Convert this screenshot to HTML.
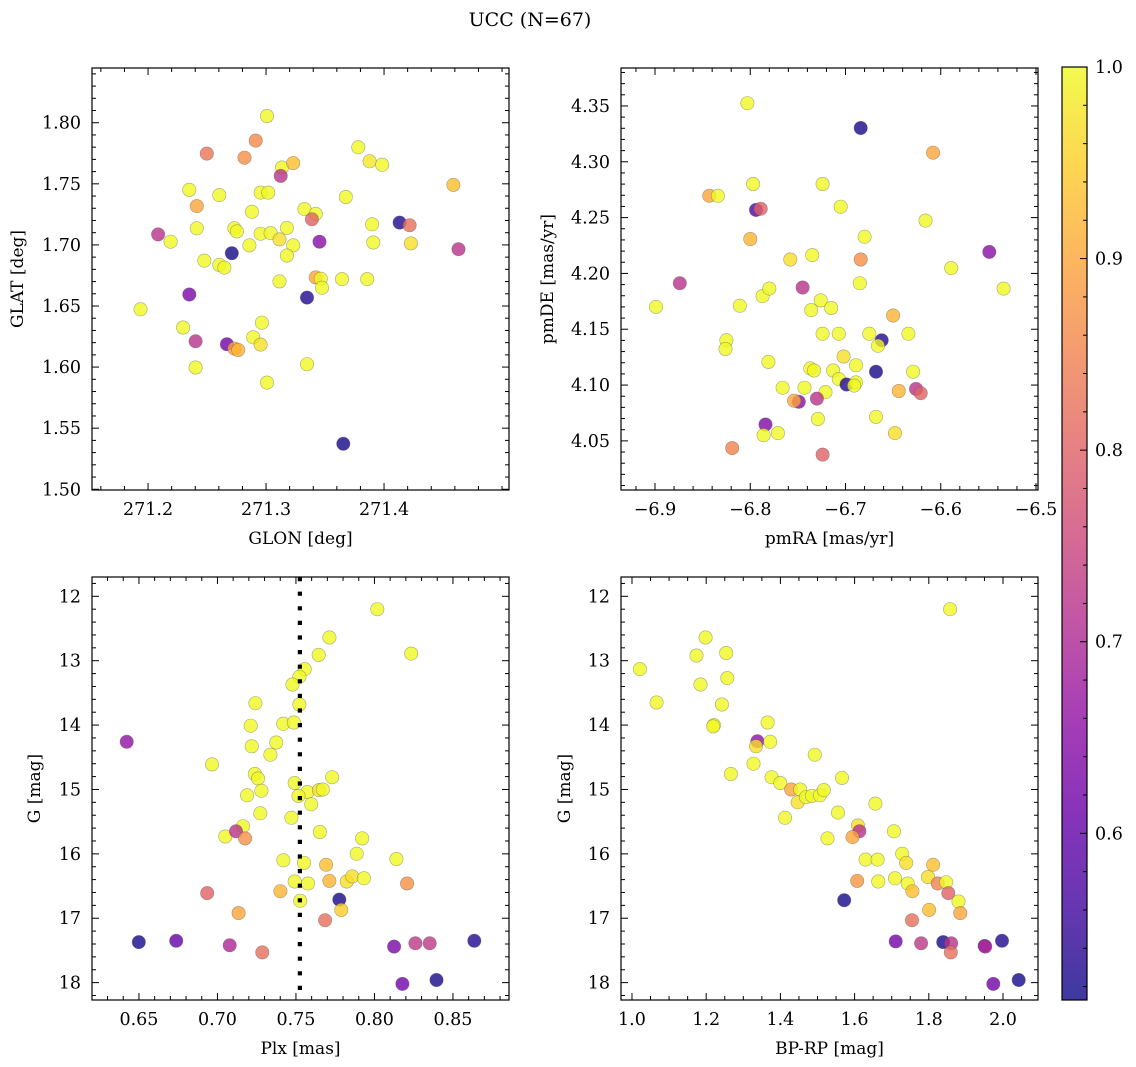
<!DOCTYPE html>
<html><head><meta charset="utf-8"><title>UCC (N=67)</title>
<style>
html,body{margin:0;padding:0;background:#fff;}
svg{display:block;font-family:"DejaVu Serif","Liberation Serif",serif;}
</style></head>
<body>
<svg id="chart" width="1136" height="1067" viewBox="0 0 1136 1067" xmlns="http://www.w3.org/2000/svg">
<defs>
<linearGradient id="plasmaGrad" x1="0" y1="1" x2="0" y2="0"></linearGradient>
</defs>
<text x="530" y="26" font-size="19" text-anchor="middle">UCC (N=67)</text>
</svg>
<script>
// ---------- data ----------
const p1X=[271.3008,271.2912,271.2498,271.2817,271.3135,271.3230,271.3124,271.3782,271.3878,271.3984,271.4588,271.2350,271.2604,271.2954,271.3018,271.3676,271.2413,271.2880,271.3326,271.3421,271.3389,271.2085,271.2191,271.2413,271.2732,271.2753,271.2954,271.3039,271.3114,271.3177,271.3230,271.2859,271.2710,271.3177,271.3453,271.3899,271.3909,271.4132,271.4217,271.4228,271.4631,271.2477,271.2604,271.2647,271.3114,271.3421,271.3464,271.3474,271.3644,271.3857,271.2350,271.3347,271.1936,271.2297,271.2965,271.2403,271.2668,271.2732,271.2764,271.2891,271.2954,271.2403,271.3347,271.3008,271.3655];
const p1Y=[1.8055,1.7854,1.7747,1.7714,1.7634,1.7670,1.7565,1.7799,1.7684,1.7656,1.7491,1.7450,1.7408,1.7428,1.7428,1.7392,1.7318,1.7271,1.7293,1.7254,1.7210,1.7086,1.7026,1.7136,1.7136,1.7111,1.7092,1.7097,1.7045,1.7139,1.6996,1.6996,1.6932,1.6913,1.7026,1.7169,1.7020,1.7183,1.7161,1.7012,1.6965,1.6872,1.6836,1.6814,1.6701,1.6734,1.6723,1.6649,1.6720,1.6720,1.6594,1.6569,1.6473,1.6324,1.6363,1.6211,1.6187,1.6151,1.6140,1.6244,1.6184,1.5997,1.6024,1.5873,1.5372];
const p1C=[1,0.86,0.83,0.87,1,0.93,0.72,1,0.98,1,0.93,1,1,1,1,1,0.9,1,1,1,0.8,0.72,1,1,1,1,1,1,0.97,1,1,1,0.52,1,0.65,1,1,0.53,0.82,0.97,0.72,1,1,1,1,0.9,1,1,1,1,0.63,0.53,1,1,1,0.72,0.62,0.9,0.92,1,0.97,1,1,1,0.52];

const p2X=[-6.803,-6.684,-6.608,-6.797,-6.724,-6.843,-6.834,-6.794,-6.789,-6.705,-6.616,-6.800,-6.680,-6.549,-6.758,-6.735,-6.684,-6.589,-6.874,-6.745,-6.685,-6.534,-6.899,-6.811,-6.787,-6.780,-6.726,-6.736,-6.715,-6.650,-6.825,-6.826,-6.724,-6.707,-6.675,-6.662,-6.666,-6.634,-6.781,-6.702,-6.689,-6.737,-6.733,-6.713,-6.668,-6.629,-6.707,-6.699,-6.689,-6.691,-6.766,-6.743,-6.721,-6.644,-6.626,-6.621,-6.749,-6.754,-6.730,-6.729,-6.668,-6.784,-6.786,-6.771,-6.648,-6.819,-6.724];
const p2Y=[4.3525,4.3303,4.3081,4.2801,4.2801,4.2695,4.2695,4.2569,4.2579,4.2598,4.2473,4.2308,4.2328,4.2193,4.2125,4.2164,4.2125,4.2048,4.1912,4.1874,4.1912,4.1864,4.1700,4.1710,4.1797,4.1864,4.1758,4.1671,4.1690,4.1623,4.1401,4.1323,4.1459,4.1459,4.1459,4.1401,4.1352,4.1459,4.1207,4.1256,4.1178,4.1149,4.1130,4.1130,4.1120,4.1120,4.1053,4.1005,4.1024,4.0995,4.0976,4.0976,4.0937,4.0947,4.0966,4.0927,4.0850,4.0860,4.0879,4.0696,4.0715,4.0647,4.0551,4.0570,4.0570,4.0435,4.0377];
const p2C=[1,0.52,0.9,1,1,0.9,1,0.58,0.8,1,1,0.92,1,0.65,0.97,1,0.87,1,0.72,0.72,1,1,1,1,1,1,1,1,1,0.92,1,1,1,1,1,0.53,1,1,1,0.97,1,1,1,1,0.52,1,1,0.53,1,1,1,1,1,0.92,0.72,0.8,0.65,0.9,0.72,1,1,0.64,1,1,0.97,0.85,0.8];

const p3X=[0.8018,0.7713,0.7645,0.8234,0.7556,0.7522,0.7478,0.7242,0.7522,0.7212,0.7419,0.7487,0.6422,0.7375,0.7218,0.7337,0.6965,0.7238,0.7258,0.7280,0.7189,0.7273,0.7730,0.7492,0.7573,0.7516,0.7646,0.7671,0.7597,0.7471,0.7652,0.7163,0.7050,0.7118,0.7176,0.7922,0.7887,0.8140,0.7420,0.7551,0.7692,0.7492,0.7577,0.7713,0.7824,0.7858,0.7933,0.8208,0.7401,0.6935,0.7527,0.7776,0.7789,0.7135,0.7686,0.6499,0.6737,0.7078,0.7286,0.8125,0.8261,0.8352,0.8636,0.8178,0.8395];
const p3G=[12.20,12.64,12.91,12.89,13.13,13.25,13.37,13.66,13.68,14.01,13.98,13.96,14.26,14.27,14.33,14.46,14.61,14.76,14.83,15.02,15.09,15.37,14.81,14.90,15.04,15.10,15.01,15.00,15.23,15.44,15.66,15.57,15.73,15.65,15.76,15.76,16.00,16.08,16.10,16.14,16.17,16.43,16.46,16.42,16.43,16.35,16.38,16.46,16.58,16.61,16.73,16.71,16.87,16.92,17.03,17.37,17.35,17.42,17.53,17.44,17.39,17.39,17.35,18.02,17.96];
const p3C=[1,1,1,1,1,1,1,1,1,1,1,1,0.66,1,1,1,1,1,1,1,1,1,1,1,1,1,0.97,1,1,1,1,1,1,0.72,0.87,1,1,1,1,1,0.93,1,1,0.92,0.97,0.97,1,0.87,0.92,0.8,1,0.52,0.95,0.9,0.82,0.52,0.6,0.7,0.82,0.63,0.73,0.73,0.53,0.62,0.52];

const p4X=[1.8575,1.0213,1.0663,1.1983,1.1738,1.2540,1.1846,1.2570,1.2423,1.2208,1.2188,1.3655,1.3381,1.3342,1.3724,1.4927,1.3274,1.2667,1.3763,1.3998,1.4291,1.4535,1.4467,1.4692,1.4848,1.5064,1.5171,1.5660,1.4125,1.5553,1.6560,1.6090,1.6130,1.5944,1.5269,1.7059,1.6296,1.6619,1.7284,1.7391,1.8115,1.7978,1.6071,1.6638,1.7088,1.7430,1.7557,1.8242,1.8467,1.8526,1.8800,1.5719,1.8007,1.8848,1.7548,1.7108,1.7792,1.8389,1.8604,1.8594,1.9504,1.9523,1.9973,1.9738,2.0423];
const p4G=[12.20,13.13,13.65,12.64,12.92,12.88,13.37,13.27,13.68,14.00,14.02,13.96,14.25,14.33,14.26,14.46,14.60,14.76,14.81,14.90,15.00,15.00,15.20,15.12,15.10,15.09,15.01,14.82,15.44,15.36,15.22,15.56,15.65,15.74,15.76,15.65,16.09,16.09,16.00,16.14,16.17,16.36,16.42,16.43,16.38,16.46,16.58,16.46,16.44,16.61,16.74,16.72,16.87,16.92,17.03,17.36,17.39,17.37,17.39,17.53,17.43,17.44,17.35,18.02,17.96];
const p4C=[1,1,1,1,1,1,1,1,1,1,1,1,0.66,0.97,1,1,1,1,1,1,0.9,1,0.97,1,1,1,1,1,1,1,1,0.97,0.72,0.9,1,1,1,1,1,0.97,0.93,0.97,0.88,1,1,1,0.93,0.85,1,0.8,1,0.52,0.93,0.9,0.82,0.62,0.73,0.52,0.72,0.82,0.63,0.7,0.53,0.62,0.52];

const plxRef=[0.7525];
const xTicks1=[271.2,271.3,271.4], yTicks1=[1.50,1.55,1.60,1.65,1.70,1.75,1.80];
const xTicks2=[-6.9,-6.8,-6.7,-6.6,-6.5], yTicks2=[4.05,4.10,4.15,4.20,4.25,4.30,4.35];
const xTicks3=[0.65,0.70,0.75,0.80,0.85], yTicksG=[12,13,14,15,16,17,18];
const xTicks4=[1.0,1.2,1.4,1.6,1.8,2.0];
const cbTicks=[0.6,0.7,0.8,0.9,1.0];
const cMin=0.513, cMax=1.0;

// ---------- helpers ----------
const NS="http://www.w3.org/2000/svg";
const svg=document.getElementById('chart');
function mk(tag,attrs,parent){const e=document.createElementNS(NS,tag);for(const k in attrs)e.setAttribute(k,attrs[k]);(parent||svg).appendChild(e);return e;}
const plasma=[[13,8,135],[65,4,157],[106,0,168],[143,13,164],[177,42,144],[204,71,120],[225,100,98],[242,132,75],[252,166,54],[252,206,37],[240,249,33]];
function cmap(v){let t=(v-cMin)/(cMax-cMin);t=Math.max(0,Math.min(1,t));const s=t*10,i=Math.min(9,Math.floor(s)),f=s-i;const a=plasma[i],b=plasma[i+1];return 'rgb('+[0,1,2].map(k=>Math.round(a[k]+(b[k]-a[k])*f)).join(',')+')';}
function fmt(v,d){return (v<0?'\u2212':'')+Math.abs(v).toFixed(d);}
const TFS=17.5, LFS=17;

function panel(o){
  const g=mk('g',{});
  
  
  const sx=v=>o.L+(v-o.x0)/(o.x1-o.x0)*(o.R-o.L);
  const sy=o.inv?(v=>o.T+(v-o.y0)/(o.y1-o.y0)*(o.B-o.T)):(v=>o.B-(v-o.y0)/(o.y1-o.y0)*(o.B-o.T));
  const pg=mk('g',{},g);
  
  
  for(let i=0;i<o.xs.length;i++){
    const c=mk('circle',{cx:sx(o.xs[i]).toFixed(1),cy:sy(o.ys[i]).toFixed(1),r:6.7,fill:cmap(o.cs[i]),'fill-opacity':0.8,stroke:'#555','stroke-opacity':0.5,'stroke-width':0.6},pg);
    
    
  }
  if(o.extra)o.extra(g,sx,sy);
  const fr=mk('rect',{x:o.L,y:o.T,width:o.R-o.L,height:o.B-o.T,fill:'none',stroke:'#000','stroke-width':1.2},g);
  
  
  const tk=mk('g',{stroke:'#000','stroke-width':1},g);
  
  
  const eps=1e-9;
  for(let v=Math.ceil(o.x0/o.xm-eps)*o.xm;v<=o.x1+eps;v+=o.xm){
    const major=o.xt.some(t=>Math.abs(t-v)<o.xm/3);const len=major?7:4;const x=sx(v);
    mk('line',{x1:x,x2:x,y1:o.B,y2:o.B-len},tk);mk('line',{x1:x,x2:x,y1:o.T,y2:o.T+len},tk);
  }
  const ya=Math.min(o.y0,o.y1),yb=Math.max(o.y0,o.y1);
  for(let v=Math.ceil(ya/o.ym-eps)*o.ym;v<=yb+eps;v+=o.ym){
    const major=o.yt.some(t=>Math.abs(t-v)<o.ym/3);const len=major?7:4;const y=sy(v);
    mk('line',{x1:o.L,x2:o.L+len,y1:y,y2:y},tk);mk('line',{x1:o.R,x2:o.R-len,y1:y,y2:y},tk);
  }
  o.xt.forEach(v=>{const t=mk('text',{x:sx(v),y:o.B+25,'font-size':TFS,'text-anchor':'middle'},g);t.textContent=fmt(v,o.xd);
    
    });
  o.yt.forEach(v=>{const t=mk('text',{x:o.L-11,y:sy(v)+6,'font-size':TFS,'text-anchor':'end'},g);t.textContent=fmt(v,o.yd);
    
    });
  const xl=mk('text',{x:(o.L+o.R)/2,y:o.B+54,'font-size':LFS,'text-anchor':'middle'},g);xl.textContent=o.xlabel;
  
  
  const yx=o.ylx,ymid=(o.T+o.B)/2;
  const yl=mk('text',{x:yx,y:ymid,'font-size':LFS,'text-anchor':'middle',transform:'rotate(-90 '+yx+' '+ymid+')'},g);yl.textContent=o.ylabel;
  
  
}

panel({name:'glon-glat-panel',L:92,R:509,T:68,B:490,x0:271.1525,x1:271.5059,y0:1.4994,y1:1.8448,xs:p1X,ys:p1Y,cs:p1C,xt:xTicks1,yt:yTicks1,xm:0.02,ym:0.01,xd:1,yd:2,xlabel:'GLON [deg]',ylabel:'GLAT [deg]',ylx:23});
panel({name:'pm-panel',L:621,R:1038,T:68,B:490,x0:-6.9357,x1:-6.4979,y0:4.006,y1:4.384,xs:p2X,ys:p2Y,cs:p2C,xt:xTicks2,yt:yTicks2,xm:0.02,ym:0.01,xd:1,yd:2,xlabel:'pmRA [mas/yr]',ylabel:'pmDE [mas/yr]',ylx:553});
panel({name:'plx-g-panel',L:92,R:509,T:577,B:1000,x0:0.6201,x1:0.8857,y0:11.70,y1:18.27,inv:true,xs:p3X,ys:p3G,cs:p3C,xt:xTicks3,yt:yTicksG,xm:0.01,ym:0.2,xd:2,yd:0,xlabel:'Plx [mas]',ylabel:'G [mag]',ylx:40,
  extra:(g,sx,sy)=>{plxRef.forEach(v=>{const l=mk('line',{x1:sx(v),x2:sx(v),y1:577,y2:1000,stroke:'#000','stroke-width':4.2,'stroke-dasharray':'4.2 10.4'},g);
    
    });}});
panel({name:'cmd-panel',L:621,R:1038,T:577,B:1000,x0:0.9704,x1:2.0943,y0:11.70,y1:18.27,inv:true,xs:p4X,ys:p4G,cs:p4C,xt:xTicks4,yt:yTicksG,xm:0.05,ym:0.2,xd:1,yd:0,xlabel:'BP-RP [mag]',ylabel:'G [mag]',ylx:570});

// ---------- colorbar ----------
const grad=document.getElementById('plasmaGrad');
plasma.forEach((c,i)=>{mk('stop',{offset:(i*10)+'%','stop-color':'rgb('+c.join(',')+')','stop-opacity':0.8},grad);});
const cbT=67,cbB=1000,cbL=1062,cbR=1087;
const cg=mk('g',{});


const cy=v=>cbB-(v-cMin)/(cMax-cMin)*(cbB-cbT);
mk('rect',{x:cbL,y:cbT,width:cbR-cbL,height:cbB-cbT,fill:'url(#plasmaGrad)',stroke:'#000','stroke-width':1.2},cg);
for(let v=0.52;v<=1.0001;v+=0.02){const major=cbTicks.some(t=>Math.abs(t-v)<0.005);const len=major?7:4;
  mk('line',{x1:cbR,x2:cbR-len,y1:cy(v),y2:cy(v),stroke:'#000','stroke-width':1},cg);}
cbTicks.forEach(v=>{const t=mk('text',{x:cbR+8,y:cy(v)+6,'font-size':TFS},cg);t.textContent=v.toFixed(1);
  
  });
</script>
</body></html>
